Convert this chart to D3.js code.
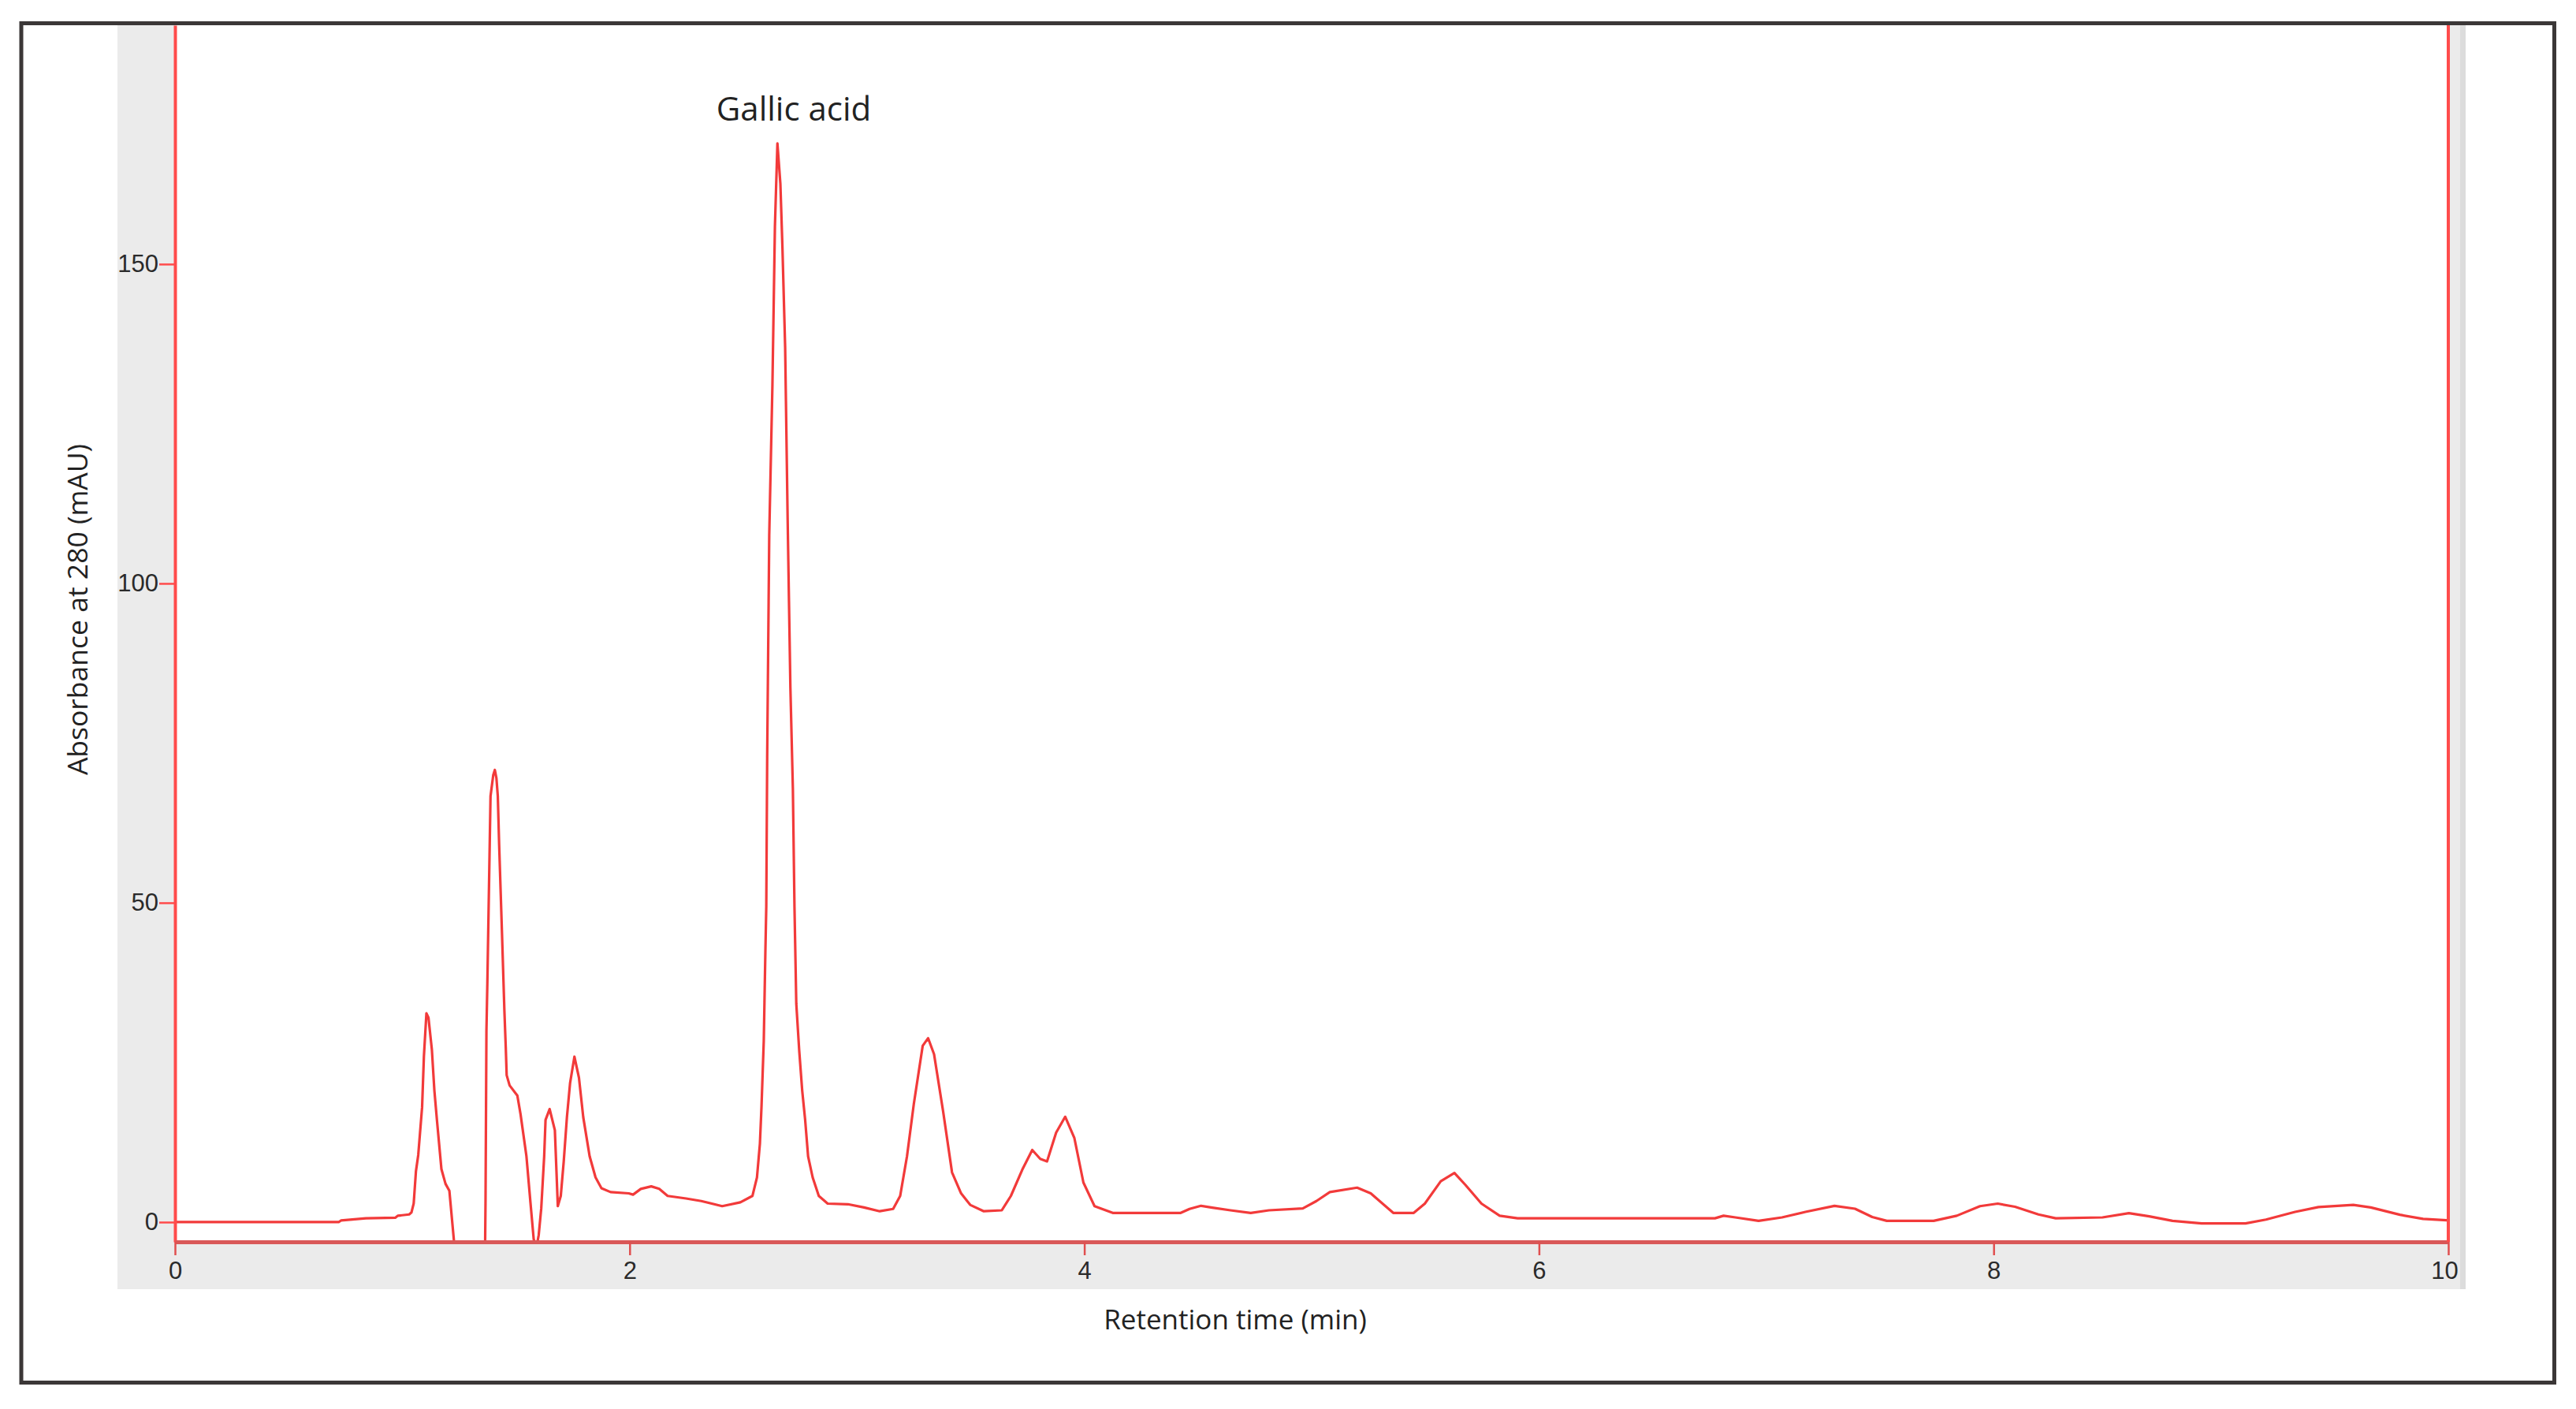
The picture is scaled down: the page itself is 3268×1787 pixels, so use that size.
<!DOCTYPE html>
<html>
<head>
<meta charset="utf-8">
<script src="https://cdn.jsdelivr.net/npm/d3@7"></script>
<style>
html, body { margin: 0; padding: 0; background: #ffffff; }
svg { display: block; }
</style>
</head>
<body>
<svg id="chart" width="3268" height="1787"></svg>
<script>
// Retention time (min)
const time = [
  0.00, 0.72, 0.73, 0.84, 0.97, 0.98, 1.03, 1.04, 1.05, 1.06, 1.07, 1.087, 1.095, 1.106, 1.115, 1.13, 1.141, 1.153, 1.172, 1.19, 1.207, 1.227, 1.24,
  1.362, 1.366, 1.370, 1.374, 1.388, 1.400, 1.407, 1.414, 1.420, 1.426, 1.438, 1.449, 1.455, 1.459, 1.472, 1.506, 1.520, 1.546, 1.566, 1.578, 1.59, 1.600,
  1.611, 1.624, 1.63, 1.648, 1.671, 1.684, 1.697, 1.710, 1.724, 1.738, 1.757, 1.777, 1.796, 1.824, 1.85, 1.876, 1.916, 1.996, 2.015, 2.049, 2.095, 2.13,
  2.167, 2.248, 2.315, 2.407, 2.487, 2.54, 2.56, 2.573, 2.58, 2.59, 2.597, 2.601, 2.605, 2.614, 2.628, 2.639, 2.650, 2.663, 2.672, 2.684, 2.695, 2.707,
  2.718, 2.725, 2.733, 2.746, 2.759, 2.772, 2.785, 2.805, 2.832, 2.871, 2.960, 3.031, 3.1, 3.159, 3.19, 3.22, 3.25, 3.289, 3.313, 3.339, 3.379, 3.418,
  3.458, 3.498, 3.558, 3.637, 3.677, 3.727, 3.771, 3.806, 3.836, 3.876, 3.916, 3.956, 3.996, 4.045, 4.125, 4.424, 4.463, 4.513, 4.563, 4.643, 4.732,
  4.812, 4.961, 5.021, 5.08, 5.2, 5.26, 5.359, 5.449, 5.498, 5.568, 5.628, 5.677, 5.747, 5.827, 5.906, 6.774, 6.812, 6.864, 6.966, 7.069, 7.172, 7.30,
  7.39, 7.466, 7.53, 7.736, 7.838, 7.94, 8.018, 8.094, 8.197, 8.273, 8.479, 8.595, 8.684, 8.787, 8.915, 9.108, 9.198, 9.326, 9.429, 9.582, 9.659,
  9.787, 9.889, 9.993, 10.0
];
// Absorbance at 280 nm (mAU)
const absorbance = [
  0.0, 0.0, 0.25, 0.6, 0.7, 1.0, 1.2, 1.5, 2.9, 8.0, 10.5, 18, 26, 32.7, 32, 27, 20.6, 15.7, 8.3, 6.0, 4.9, -2.9, -12,
  -12, 3.3, 30, 37.3, 66.7, 70.0, 70.8, 69.5, 66.7, 59, 45.7, 33.1, 27.4, 23, 21.4, 19.8, 16.9, 10.3, 2.1, -2.7, -4, -2,
  2.1, 10.3, 16, 17.7, 14.4, 2.5, 4.1, 9.5, 16.4, 21.8, 25.9, 22.6, 16.4, 10.3, 7.0, 5.3, 4.7, 4.5, 4.3, 5.2, 5.6, 5.2,
  4.1, 3.7, 3.3, 2.5, 3.1, 4.1, 7.0, 12.3, 18.1, 28.4, 42.3, 49.4, 72.8, 107.5, 131, 155.9, 168.9, 162.6, 152.7, 137, 110, 83.8,
  67.8, 49.4, 34.2, 26.8, 20.6, 16.0, 10.3, 7.0, 4.1, 2.9, 2.8, 2.3, 1.7, 2.06, 4.1, 10.3, 18.5, 27.6, 28.8, 26.3, 17.3, 7.8,
  4.5, 2.7, 1.7, 1.85, 4.1, 8.2, 11.3, 9.9, 9.5, 14, 16.5, 13.2, 6.2, 2.5, 1.44, 1.44, 2.06, 2.55, 2.26, 1.85, 1.44,
  1.85, 2.14, 3.3, 4.7, 5.4, 4.5, 1.44, 1.44, 2.9, 6.4, 7.7, 5.8, 2.9, 1.0, 0.6, 0.6, 1.0, 0.74, 0.2, 0.74, 1.6, 2.55,
  2.1, 0.8, 0.2, 0.2, 1.0, 2.5, 2.9, 2.4, 1.2, 0.6, 0.74, 1.4, 0.9, 0.2, -0.2, -0.2, 0.4, 1.6, 2.35, 2.7, 2.3,
  1.15, 0.5, 0.3, 0.3
];
const xTicks = [0, 2, 4, 6, 8, 10];
const yTicks = [0, 50, 100, 150];
const xDomain = [0, 10];
const yDomain = [-3.09, 187.4];
const peakLabel = "Gallic acid";
const xTitle = "Retention time (min)";
const yTitle = "Absorbance at 280 (mAU)";

const svg = d3.select("#chart");

// outer frame
svg.append("rect").attr("x", 27).attr("y", 29.5).attr("width", 3213.5).attr("height", 1724)
  .attr("fill", "#ffffff").attr("stroke", "#3b3737").attr("stroke-width", 5);

// grey panel
svg.append("rect").attr("x", 149).attr("y", 32).attr("width", 2979).attr("height", 1603).attr("fill", "#ebebeb");
svg.append("rect").attr("x", 3121).attr("y", 32).attr("width", 7).attr("height", 1603).attr("fill", "#dcdcdc");

const x = d3.scaleLinear().domain(xDomain).range([222, 3106]);
const y = d3.scaleLinear().domain(yDomain).range([1575, 32]);

// white plot area
svg.append("rect").attr("x", x(0)).attr("y", y(yDomain[1])).attr("width", x(10) - x(0)).attr("height", y(yDomain[0]) - y(yDomain[1]))
  .attr("fill", "#ffffff");

svg.append("clipPath").attr("id", "plotclip").append("rect")
  .attr("x", x(0)).attr("y", y(yDomain[1])).attr("width", x(10) - x(0)).attr("height", y(yDomain[0]) - y(yDomain[1]));

// trace
const data = time.map((t, i) => [t, absorbance[i]]);
const line = d3.line().x(d => x(d[0])).y(d => y(d[1]));
svg.append("path").datum(data).attr("d", line).attr("clip-path", "url(#plotclip)")
  .attr("fill", "none").attr("stroke", "#f23a3a").attr("stroke-width", 3.2).attr("stroke-linejoin", "round");

// axes
const yAxis = d3.axisLeft(y).tickValues(yTicks).tickSize(20).tickSizeOuter(0).tickPadding(1).tickFormat(d3.format("d"));
const gy = svg.append("g").attr("transform", `translate(${x(0)},0)`).call(yAxis);
gy.select(".domain").attr("stroke", "#ff4b4b").attr("stroke-width", 4);
gy.selectAll(".tick line").attr("stroke", "#ff4b4b").attr("stroke-width", 2.5);
gy.selectAll(".tick text").attr("font-family", "'Liberation Sans', Arial, sans-serif").attr("font-size", 31).attr("fill", "#2a2a2a");

const xAxis = d3.axisBottom(x).tickValues(xTicks).tickSize(17).tickSizeOuter(0).tickPadding(8).tickFormat(d3.format("d"));
const gx = svg.append("g").attr("transform", `translate(0,${y(yDomain[0])})`).call(xAxis);
gx.select(".domain").attr("stroke", "#d95858").attr("stroke-width", 5);
gx.selectAll(".tick line").attr("stroke", "#e04f4f").attr("stroke-width", 2.5);
gx.selectAll(".tick text").attr("font-family", "'Liberation Sans', Arial, sans-serif").attr("font-size", 31).attr("fill", "#2a2a2a")
  .attr("dx", d => d === 10 ? -5 : 0);

// right boundary line
svg.append("line").attr("x1", x(10)).attr("x2", x(10)).attr("y1", y(yDomain[1])).attr("y2", y(yDomain[0]))
  .attr("stroke", "#ff4b4b").attr("stroke-width", 4);

// titles
svg.append("text").attr("x", 1567).attr("y", 1686).attr("text-anchor", "middle")
  .attr("font-family", "'Open Sans', sans-serif").attr("font-size", 35).attr("fill", "#222").text(xTitle);

svg.append("text").attr("transform", "translate(111,773) rotate(-90)").attr("text-anchor", "middle")
  .attr("font-family", "'Open Sans', sans-serif").attr("font-size", 35.5).attr("fill", "#222").text(yTitle);

// peak annotation
svg.append("text").attr("x", 1007).attr("y", 153).attr("text-anchor", "middle")
  .attr("font-family", "'Open Sans', sans-serif").attr("font-size", 42).attr("fill", "#222").text(peakLabel);
</script>
</body>
</html>
